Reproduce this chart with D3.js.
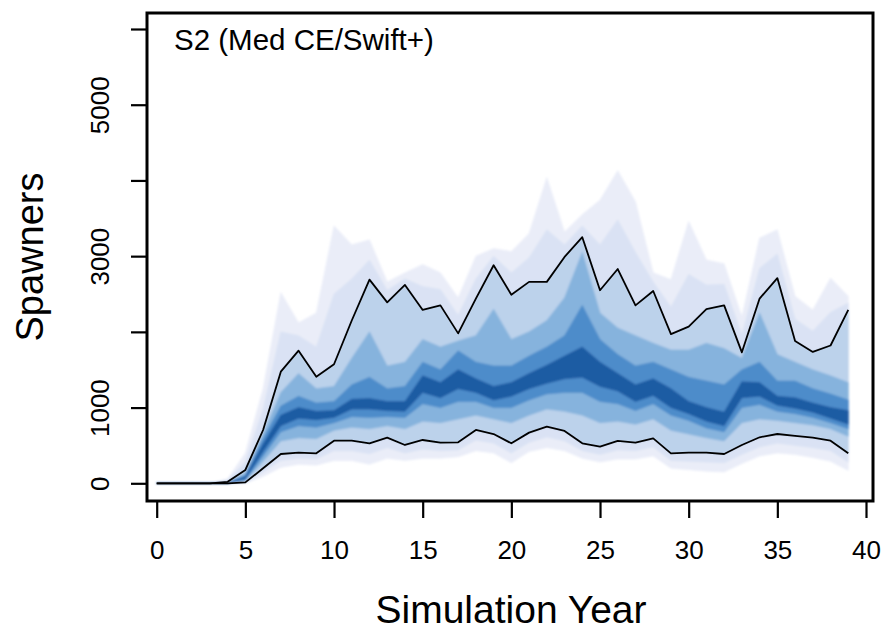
<!DOCTYPE html>
<html>
<head>
<meta charset="utf-8">
<script src="https://cdn.jsdelivr.net/npm/d3@7/dist/d3.min.js"></script>
<style>
  body { margin: 0; background: #fff; }
  svg { display: block; }
  text { font-family: "Liberation Sans", Arial, Helvetica, sans-serif; fill: #000; }
</style>
</head>
<body>
<svg id="chart" width="885" height="633"></svg>
<script>
// Simulation years
const years = [0,1,2,3,4,5,6,7,8,9,10,11,12,13,14,15,16,17,18,19,20,21,22,23,24,25,26,27,28,29,30,31,32,33,34,35,36,37,38,39];

// Spawner quantiles per year (1st ... 99th percentile)
const q01 = [0,0,0,0,0,0,90,210,250,240,300,300,250,330,300,330,330,350,430,400,270,420,470,430,330,280,320,320,360,200,180,160,150,260,360,400,380,340,290,170];
const q05 = [0,0,0,0,0,5,150,300,330,320,430,430,390,470,400,450,430,440,570,530,400,540,610,560,430,380,440,430,480,300,290,280,270,380,480,530,500,470,430,280];
const q10 = [0,0,0,0,0,12,198,387,404,396,563,563,528,603,506,572,536,541,704,651,528,669,748,691,528,484,559,536,594,396,404,404,387,506,608,651,625,603,563,396];
const q20 = [0,0,0,0,0,30,290,560,600,590,700,740,720,760,720,820,800,850,900,850,800,900,980,950,900,800,820,780,850,700,650,600,560,800,850,830,800,770,720,620];
const q30 = [0,0,0,0,0,45,360,680,760,740,800,880,870,880,870,1050,1000,1080,1080,1000,1000,1100,1180,1200,1200,1080,1050,960,1050,900,830,730,680,1000,1040,950,920,870,800,720];
const q40 = [0,0,0,0,2,60,420,760,860,840,870,980,980,960,950,1200,1130,1250,1200,1100,1150,1250,1320,1380,1400,1280,1220,1080,1160,1000,920,820,760,1130,1150,1030,990,940,860,780];
const q60 = [0,0,0,0,5,85,520,900,1000,950,960,1110,1120,1080,1080,1420,1330,1500,1380,1280,1330,1450,1560,1680,1800,1600,1450,1300,1380,1250,1080,1000,940,1340,1330,1150,1130,1060,1000,960];
const q70 = [0,0,0,0,8,105,590,1020,1150,1060,1080,1300,1400,1250,1280,1600,1500,1750,1600,1550,1550,1680,1800,1950,2350,1900,1700,1550,1600,1500,1400,1350,1300,1500,1600,1350,1350,1250,1180,1100];
const q80 = [0,0,0,0,12,135,650,1200,1450,1250,1280,1650,2000,1550,1600,1900,1800,1880,1950,2300,1900,2000,2150,2450,3050,2250,2050,1950,1850,1760,1760,1850,1780,1650,2250,1700,1600,1500,1420,1330];
const q90 = [0,0,0,0,20,176,704,1474,1752,1408,1572,2150,2690,2390,2620,2290,2350,1980,2440,2880,2490,2660,2660,2990,3250,2550,2830,2350,2540,1970,2070,2300,2350,1730,2440,2710,1880,1735,1820,2290];
const q95 = [0,0,0,0,40,280,980,2000,1950,1800,2500,2700,2950,2550,2700,2600,2560,2220,2700,3000,2780,2980,3350,3150,3400,3150,3480,3050,2660,2330,2760,2620,2630,1960,2840,3030,2170,2010,2260,2380];
const q99 = [0,0,0,0,60,400,1250,2520,2120,2250,3400,3150,3215,2660,2780,2890,2780,2450,3000,3100,3060,3300,4040,3320,3550,3740,4130,3720,2780,2690,3460,2950,2900,2200,3240,3350,2470,2290,2710,2470];

// Axis ticks
const xTicks = [0,5,10,15,20,25,30,35,40];
const yTicks = [0,1000,2000,3000,4000,5000,6000];
const yTickLabels = ["0","1000","","3000","","5000",""];

const panelTitle = "S2 (Med CE/Swift+)";
const xTitle = "Simulation Year";
const yTitle = "Spawners";

const svg = d3.select("#chart");

// Plot frame (pixels)
const frame = { left: 147, right: 873, top: 13, bottom: 501 };

const x = d3.scaleLinear().domain([0, 40]).range([156.7, 866]);
const y = d3.scaleLinear().domain([0, 6000]).range([483.3, 29]);

// Soft edges between the shaded quantile bands
const defs = svg.append("defs");
defs.append("filter").attr("id", "soft")
  .attr("x", "-5%").attr("y", "-5%").attr("width", "110%").attr("height", "110%")
  .append("feGaussianBlur").attr("stdDeviation", 1.1);

// Nested quantile bands, outermost first
const bands = [
  { lo: q01, hi: q99, color: "#eaedf8" },
  { lo: q05, hi: q95, color: "#dae2f4" },
  { lo: q10, hi: q90, color: "#bcd2eb" },
  { lo: q20, hi: q80, color: "#86b3dd" },
  { lo: q30, hi: q70, color: "#4d8cca" },
  { lo: q40, hi: q60, color: "#1d5ba3" }
];

const fan = svg.append("g").attr("filter", "url(#soft)");
bands.forEach(b => {
  const area = d3.area()
    .x((d, i) => x(years[i]))
    .y0((d, i) => y(b.lo[i]))
    .y1((d, i) => y(b.hi[i]));
  fan.append("path")
    .datum(years)
    .attr("d", area)
    .attr("fill", b.color)
    .attr("stroke", b.color)
    .attr("stroke-width", 0.6);
});

// 10th and 90th percentile lines
[q10, q90].forEach(q => {
  const line = d3.line()
    .x((d, i) => x(years[i]))
    .y((d, i) => y(q[i]));
  svg.append("path")
    .datum(years)
    .attr("d", line)
    .attr("fill", "none")
    .attr("stroke", "#000")
    .attr("stroke-width", 1.8)
    .attr("stroke-linejoin", "round");
});

// Frame
svg.append("rect")
  .attr("x", frame.left).attr("y", frame.top)
  .attr("width", frame.right - frame.left)
  .attr("height", frame.bottom - frame.top)
  .attr("fill", "none").attr("stroke", "#000").attr("stroke-width", 3);

// X axis
const xAxis = d3.axisBottom(x).tickValues(xTicks).tickSize(16).tickPadding(23).tickFormat(d3.format("d"));
const gx = svg.append("g").attr("transform", `translate(0,${frame.bottom + 1})`).call(xAxis);
gx.select(".domain").remove();
gx.selectAll(".tick line").attr("stroke", "#000").attr("stroke-width", 2.2);
gx.selectAll(".tick text").attr("font-size", 26).attr("fill", "#000")
  .attr("font-family", "Liberation Sans, Arial, sans-serif").attr("dy", "0.71em");

// Y axis (labels rotated, R style)
const yAxis = d3.axisLeft(y).tickValues(yTicks).tickSize(15).tickFormat((d, i) => yTickLabels[i]);
const gy = svg.append("g").attr("transform", `translate(${frame.left - 1},0)`).call(yAxis);
gy.select(".domain").remove();
gy.selectAll(".tick line").attr("stroke", "#000").attr("stroke-width", 2.2);
gy.selectAll(".tick text")
  .attr("font-size", 26).attr("fill", "#000")
  .attr("font-family", "Liberation Sans, Arial, sans-serif")
  .attr("text-anchor", "middle")
  .attr("x", null).attr("dy", null)
  .attr("transform", "translate(-37,0) rotate(-90)");

// Titles
svg.append("text")
  .attr("x", 174).attr("y", 50)
  .attr("font-size", 29.5)
  .text(panelTitle);

svg.append("text")
  .attr("x", 511).attr("y", 623)
  .attr("text-anchor", "middle")
  .attr("font-size", 39)
  .text(xTitle);

svg.append("text")
  .attr("transform", `translate(43,${(frame.top + frame.bottom) / 2}) rotate(-90)`)
  .attr("text-anchor", "middle")
  .attr("font-size", 38)
  .text(yTitle);
</script>
</body>
</html>
